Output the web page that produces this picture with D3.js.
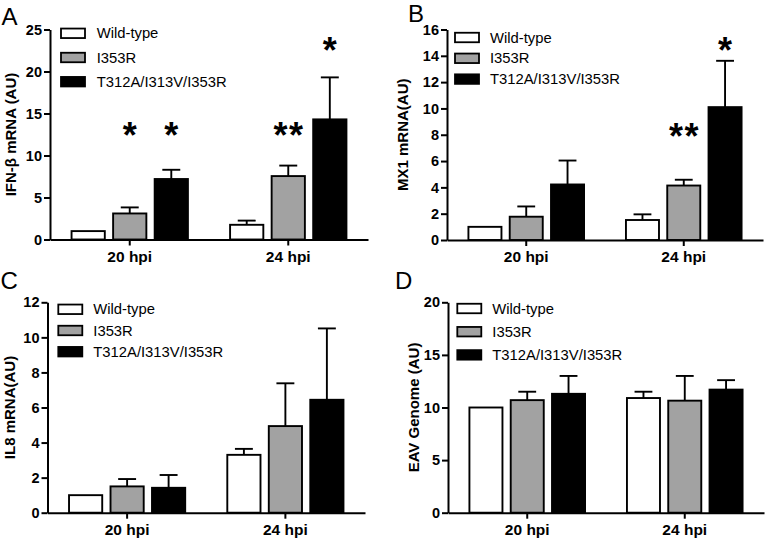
<!DOCTYPE html>
<html>
<head>
<meta charset="utf-8">
<script src="https://cdn.jsdelivr.net/npm/d3@7"></script>
<style>
  html, body { margin: 0; padding: 0; background: #fff; }
  svg { display: block; }
</style>
</head>
<body>
<svg id="chart" width="768" height="539"></svg>
<script>
// ---------- DATA ----------
const groups = ["20 hpi", "24 hpi"];
const seriesNames = ["Wild-type", "I353R", "T312A/I313V/I353R"];

// Panel A: IFN-beta mRNA
const ifnTicks = [0, 5, 10, 15, 20, 25];
const ifnWT = [1.0, 1.75];
const ifnI353R = [3.1, 7.55];
const ifnTriple = [7.2, 14.3];
const ifnErrWT = [0, 0.5];
const ifnErrI353R = [0.72, 1.25];
const ifnErrTriple = [1.1, 5.0];
const ifnStars = [
  { group: "20 hpi", series: 1, text: "*", tier: "low" },
  { group: "20 hpi", series: 2, text: "*", tier: "low" },
  { group: "24 hpi", series: 1, text: "**", tier: "low" },
  { group: "24 hpi", series: 2, text: "*", tier: "high" }
];

// Panel B: MX1 mRNA
const mx1Ticks = [0, 2, 4, 6, 8, 10, 12, 14, 16];
const mx1WT = [1.0, 1.52];
const mx1I353R = [1.77, 4.14];
const mx1Triple = [4.22, 10.1];
const mx1ErrWT = [0, 0.43];
const mx1ErrI353R = [0.78, 0.44];
const mx1ErrTriple = [1.82, 3.52];
const mx1Stars = [
  { group: "24 hpi", series: 1, text: "**", tier: "low" },
  { group: "24 hpi", series: 2, text: "*", tier: "high" }
];

// Panel C: IL8 mRNA
const il8Ticks = [0, 2, 4, 6, 8, 10, 12];
const il8WT = [1.0, 3.3];
const il8I353R = [1.5, 4.94];
const il8Triple = [1.42, 6.44];
const il8ErrWT = [0, 0.34];
const il8ErrI353R = [0.42, 2.44];
const il8ErrTriple = [0.73, 4.07];
const il8Stars = [];

// Panel D: EAV genome
const eavTicks = [0, 5, 10, 15, 20];
const eavWT = [10.0, 10.9];
const eavI353R = [10.7, 10.65];
const eavTriple = [11.3, 11.7];
const eavErrWT = [0, 0.6];
const eavErrI353R = [0.8, 2.35];
const eavErrTriple = [1.7, 0.9];
const eavStars = [];

// ---------- STYLE / LAYOUT ----------
const FONT = "'Liberation Sans', Arial, Helvetica, sans-serif";
const fills = ["#ffffff", "#a2a2a2", "#000000"];

const panels = [
  { letter: "A", letterX: 1.5, letterY: 24.5, title: "IFN-\u03b2 mRNA (AU)", titleX: 11,
    ticks: ifnTicks, values: [ifnWT, ifnI353R, ifnTriple], errors: [ifnErrWT, ifnErrI353R, ifnErrTriple],
    stars: ifnStars, x0: 50, x1: 368, yb: 239.5, yt: 29.5,
    legend: { x: 61, y: 33.3, dy: 24.2, tx: 96.7 } },
  { letter: "B", letterX: 408, letterY: 21.5, title: "MX1 mRNA(AU)", titleX: 403,
    ticks: mx1Ticks, values: [mx1WT, mx1I353R, mx1Triple], errors: [mx1ErrWT, mx1ErrI353R, mx1ErrTriple],
    stars: mx1Stars, x0: 447, x1: 763, yb: 240, yt: 29.5,
    legend: { x: 455, y: 37.5, dy: 20.8, tx: 490 } },
  { letter: "C", letterX: 0.5, letterY: 289, title: "IL8 mRNA(AU)", titleX: 10,
    ticks: il8Ticks, values: [il8WT, il8I353R, il8Triple], errors: [il8ErrWT, il8ErrI353R, il8ErrTriple],
    stars: il8Stars, x0: 47.5, x1: 365, yb: 512.7, yt: 302.3,
    legend: { x: 58.3, y: 309.3, dy: 21.2, tx: 93.3 } },
  { letter: "D", letterX: 395, letterY: 289, title: "EAV Genome (AU)", titleX: 414,
    ticks: eavTicks, values: [eavWT, eavI353R, eavTriple], errors: [eavErrWT, eavErrI353R, eavErrTriple],
    stars: eavStars, x0: 448, x1: 764, yb: 512.7, yt: 302.3,
    legend: { x: 457.3, y: 308.5, dy: 23.2, tx: 492.3 } }
];

const svg = d3.select("#chart");

panels.forEach(p => {
  const g = svg.append("g");
  const yMax = p.ticks[p.ticks.length - 1];
  const y = d3.scaleLinear().domain([0, yMax]).range([p.yb, p.yt]);
  const xg = d3.scaleBand().domain(groups).range([p.x0, p.x1]).paddingInner(0.266).paddingOuter(0.136);
  const xs = d3.scaleBand().domain([0, 1, 2]).range([0, xg.bandwidth()]).paddingInner(0.2).paddingOuter(0);

  const rows = [];
  p.values.forEach((arr, si) => {
    arr.forEach((v, gi) => rows.push({ series: si, group: groups[gi], value: v, err: p.errors[si][gi] }));
  });

  // error bars (upper only)
  const capW = xs.bandwidth() * 0.54;
  const eb = g.append("g").attr("stroke", "#000").attr("stroke-width", 1.9).attr("fill", "none");
  rows.filter(d => d.err > 0).forEach(d => {
    const cx = xg(d.group) + xs(d.series) + xs.bandwidth() / 2;
    eb.append("line").attr("x1", cx).attr("x2", cx).attr("y1", y(d.value)).attr("y2", y(d.value + d.err));
    eb.append("line").attr("x1", cx - capW / 2).attr("x2", cx + capW / 2)
      .attr("y1", y(d.value + d.err)).attr("y2", y(d.value + d.err));
  });

  // bars
  g.append("g").selectAll("rect").data(rows).join("rect")
    .attr("x", d => xg(d.group) + xs(d.series))
    .attr("width", xs.bandwidth())
    .attr("y", d => y(d.value))
    .attr("height", d => y(0) - y(d.value))
    .attr("fill", d => fills[d.series])
    .attr("stroke", "#000")
    .attr("stroke-width", 1.9);

  // axes
  const ya = g.append("g").attr("transform", `translate(${p.x0},0)`)
    .call(d3.axisLeft(y).tickValues(p.ticks).tickSize(6).tickSizeOuter(0).tickPadding(2).tickFormat(d3.format("d")));
  const xa = g.append("g").attr("transform", `translate(0,${p.yb})`)
    .call(d3.axisBottom(xg).tickSize(6).tickSizeOuter(0).tickPadding(5));

  [ya, xa].forEach(a => {
    a.select(".domain").attr("stroke", "#000").attr("stroke-width", 2);
    a.selectAll(".tick line").attr("stroke", "#000").attr("stroke-width", 2);
    a.selectAll("text").attr("fill", "#000").attr("font-family", FONT).attr("font-weight", "bold");
  });
  ya.selectAll("text").attr("font-size", "14.5px");
  xa.selectAll("text").attr("font-size", "15.5px");

  // y axis title
  g.append("text")
    .attr("transform", `translate(${p.titleX},${(p.yb + p.yt) / 2}) rotate(-90)`)
    .attr("text-anchor", "middle").attr("dy", "0.35em")
    .attr("font-family", FONT).attr("font-weight", "bold").attr("font-size", "15px")
    .text(p.title);

  // panel letter
  g.append("text").attr("x", p.letterX).attr("y", p.letterY)
    .attr("font-family", FONT).attr("font-size", "24px").text(p.letter);

  // legend
  const lg = g.append("g");
  seriesNames.forEach((name, i) => {
    const cy = p.legend.y + i * p.legend.dy;
    lg.append("rect").attr("x", p.legend.x).attr("y", cy - 4.75).attr("width", 24).attr("height", 9.5)
      .attr("fill", fills[i]).attr("stroke", "#000").attr("stroke-width", 1.8);
    lg.append("text").attr("x", p.legend.tx).attr("y", cy).attr("dy", "0.35em")
      .attr("font-family", FONT).attr("font-size", "14.8px").text(name);
  });

  // significance stars
  const h = p.yb - p.yt;
  const tierY = { low: p.yt + 0.467 * h, high: p.yt + 0.062 * h };
  const starSize = 36;
  p.stars.forEach(s => {
    const cx = xg(s.group) + xs(s.series) + xs.bandwidth() / 2;
    const n = s.text.length;
    const sep = 15.7;
    for (let k = 0; k < n; k++) {
      const ox = (k - (n - 1) / 2) * sep;
      g.append("text").attr("x", cx + ox).attr("y", tierY[s.tier] + 0.58 * starSize)
        .attr("text-anchor", "middle")
        .attr("font-family", FONT).attr("font-weight", "bold").attr("font-size", starSize + "px")
        .text("*");
    }
  });
});
</script>
</body>
</html>
